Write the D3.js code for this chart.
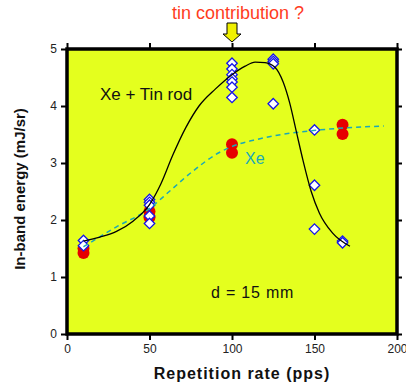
<!DOCTYPE html>
<html lang="en">
<head>
<meta charset="UTF-8">
<title>In-band energy vs repetition rate</title>
<style>
  html, body { margin: 0; padding: 0; background: #fff; }
  svg { display: block; font-family: 'Liberation Sans', Arial, sans-serif; }
</style>
</head>
<body>
<div id="chart"></div>
<script src="https://d3js.org/d3.v7.min.js"></script>
<script>
// measured points (Xe + Tin rod)
const tinX = [10, 10, 50, 50, 50, 50, 50, 100, 100, 100, 100, 100, 100, 100, 125, 125, 125, 125, 150, 150, 150, 167, 167];
const tinY = [1.64, 1.55, 2.36, 2.31, 2.26, 2.07, 1.94, 4.75, 4.65, 4.55, 4.48, 4.42, 4.33, 4.15, 4.82, 4.78, 4.74, 4.04, 3.58, 2.61, 1.84, 1.63, 1.6];
// measured points (Xe only)
const xeX = [10, 10, 50, 50, 100, 100, 167, 167];
const xeY = [1.5, 1.42, 2.15, 2.05, 3.33, 3.18, 3.67, 3.51];
// fitted curves
const fitTinX = [10, 20, 30, 40, 50, 57, 64, 72, 80, 90, 100, 108, 114, 120, 126, 131, 135, 139, 143, 148, 153, 161, 171.5];
const fitTinY = [1.63, 1.7, 1.8, 1.98, 2.27, 2.64, 3.13, 3.62, 4.0, 4.3, 4.55, 4.7, 4.77, 4.76, 4.68, 4.42, 4.05, 3.55, 3.05, 2.5, 2.12, 1.77, 1.54];
const fitXeX = [10, 30, 50, 62, 76, 92, 105, 113, 130, 153, 192];
const fitXeY = [1.53, 1.88, 2.2, 2.5, 2.85, 3.18, 3.34, 3.4, 3.5, 3.58, 3.65];
const xTicks = [0, 50, 100, 150, 200];
const yTicks = [0, 1, 2, 3, 4, 5];

const W = 406, H = 385;
const svg = d3.select("#chart").append("svg").attr("width", W).attr("height", H);

const x = d3.scaleLinear().domain([0, 200]).range([67, 397]);
const y = d3.scaleLinear().domain([0, 5]).range([334, 49]);

// plot background
svg.append("rect")
  .attr("x", x(0)).attr("y", y(5))
  .attr("width", x(200) - x(0)).attr("height", y(0) - y(5))
  .attr("fill", "#e4ff1e");

// axes
function styleAxis(g, labels) {
  g.select(".domain").remove();
  g.selectAll(".tick line").attr("stroke", "#000").attr("stroke-width", 2);
  g.selectAll(".tick text").attr("fill", "#222").style("font-size", "12px");
  if (!labels) g.selectAll(".tick text").remove();
}
svg.append("g").attr("transform", `translate(0,${y(0)})`)
  .call(d3.axisBottom(x).tickValues(xTicks).tickSize(6).tickPadding(4).tickFormat(d3.format("d")))
  .call(g => styleAxis(g, true));
svg.append("g").attr("transform", `translate(0,${y(5)})`)
  .call(d3.axisTop(x).tickValues(xTicks).tickSize(6))
  .call(g => styleAxis(g, false));
svg.append("g").attr("transform", `translate(${x(0)},0)`)
  .call(d3.axisLeft(y).tickValues(yTicks).tickSize(6).tickPadding(4).tickFormat(d3.format("d")))
  .call(g => styleAxis(g, true));
svg.append("g").attr("transform", `translate(${x(200)},0)`)
  .call(d3.axisRight(y).tickValues(yTicks).tickSize(5))
  .call(g => styleAxis(g, false));

// frame
svg.append("rect")
  .attr("x", x(0)).attr("y", y(5))
  .attr("width", x(200) - x(0)).attr("height", y(0) - y(5))
  .attr("fill", "none").attr("stroke", "#000").attr("stroke-width", 3.5);

// red circles (Xe)
svg.append("g").selectAll("circle")
  .data(xeX.map((d, i) => [d, xeY[i]])).enter()
  .append("circle")
  .attr("cx", d => x(d[0])).attr("cy", d => y(d[1]))
  .attr("r", 6)
  .attr("fill", "#e60000");

// diamonds (Xe + Tin)
const diamond = d3.symbol().type(d3.symbolDiamond2).size(70);
svg.append("g").selectAll("path")
  .data(tinX.map((d, i) => [d, tinY[i]])).enter()
  .append("path")
  .attr("d", diamond)
  .attr("transform", d => `translate(${x(d[0])},${y(d[1])})`)
  .attr("fill", "#fff")
  .attr("stroke", "#1414e6")
  .attr("stroke-width", 1.3);

// fit lines
const line = d3.line().x(d => x(d[0])).y(d => y(d[1])).curve(d3.curveMonotoneX);
svg.append("path")
  .datum(fitXeX.map((d, i) => [d, fitXeY[i]]))
  .attr("d", line)
  .attr("fill", "none")
  .attr("stroke", "#1aa8b8")
  .attr("stroke-width", 1.5)
  .attr("stroke-dasharray", "5,4");
svg.append("path")
  .datum(fitTinX.map((d, i) => [d, fitTinY[i]]))
  .attr("d", line)
  .attr("fill", "none")
  .attr("stroke", "#000")
  .attr("stroke-width", 1.3);

// annotations
svg.append("text").attr("x", 100).attr("y", 100)
  .style("font-size", "17px").attr("fill", "#111")
  .text("Xe + Tin rod");
svg.append("text").attr("x", 245).attr("y", 164)
  .style("font-size", "16px").attr("fill", "#1aa8b8")
  .text("Xe");
svg.append("text").attr("x", 211).attr("y", 298)
  .style("font-size", "16px").style("letter-spacing", "0.8px").attr("fill", "#111")
  .text("d = 15 mm");
svg.append("text").attr("x", 238).attr("y", 19)
  .attr("text-anchor", "middle")
  .style("font-size", "18px").attr("fill", "#ff3c1e")
  .text("tin contribution ?");

// arrow
const ax = x(100);
svg.append("path")
  .attr("d", `M${ax - 5},23 L${ax + 5},23 L${ax + 5},34 L${ax + 9},34 L${ax},42 L${ax - 9},34 L${ax - 5},34 Z`)
  .attr("fill", "#f0f000")
  .attr("stroke", "#000")
  .attr("stroke-width", 1);

// axis titles
svg.append("text").attr("x", 242).attr("y", 379)
  .attr("text-anchor", "middle")
  .style("font-size", "16px").style("font-weight", "bold").style("letter-spacing", "1px")
  .attr("fill", "#111")
  .text("Repetition rate (pps)");
svg.append("text")
  .attr("transform", "translate(25,189) rotate(-90)")
  .attr("text-anchor", "middle")
  .style("font-size", "15px").style("font-weight", "bold")
  .attr("fill", "#111")
  .text("In-band energy (mJ/sr)");
</script>
</body>
</html>
